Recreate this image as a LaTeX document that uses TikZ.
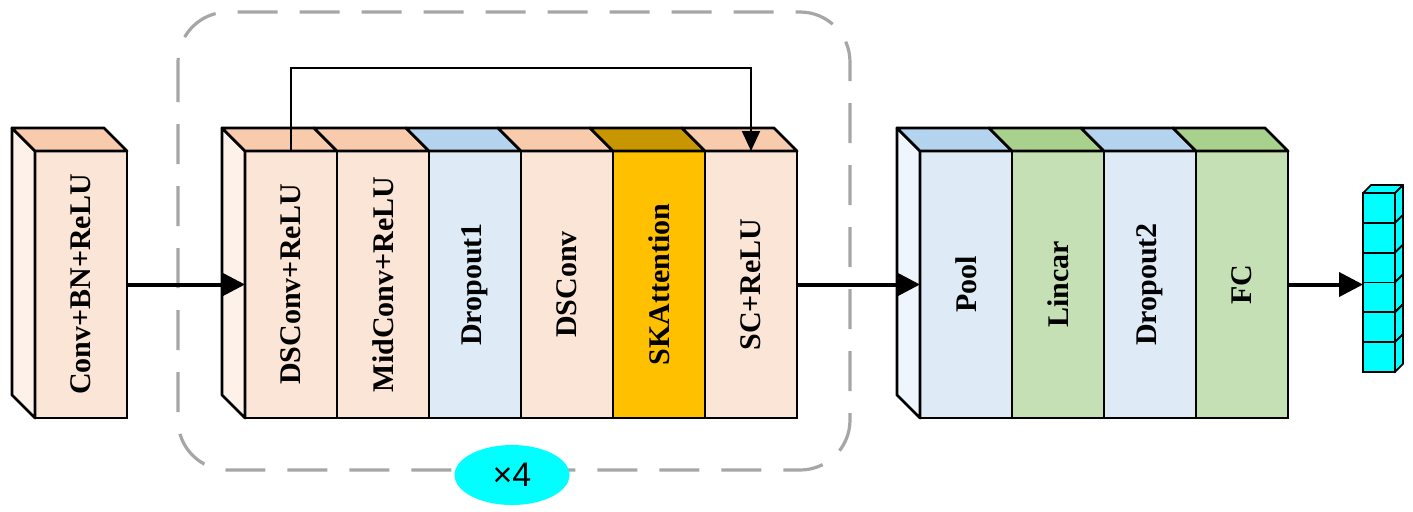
\documentclass[tikz,border=0pt]{standalone}
\usepackage{fontspec}
\setmainfont{Liberation Serif}
\setsansfont{Liberation Sans}
\usetikzlibrary{arrows.meta,shapes.geometric}

\definecolor{peachfront}{HTML}{FBE5D6}
\definecolor{peachtop}{HTML}{F8CBAD}
\definecolor{peachside}{HTML}{FDF1E9}
\definecolor{bluefront}{HTML}{DEEBF7}
\definecolor{bluetop}{HTML}{B4D3EE}
\definecolor{blueside}{HTML}{EEF5FC}
\definecolor{greenfront}{HTML}{C5E0B4}
\definecolor{greentop}{HTML}{A9D18E}
\definecolor{goldfront}{HTML}{FFC000}
\definecolor{goldtop}{HTML}{C89600}
\definecolor{loopgray}{HTML}{A6A6A6}
\definecolor{vecfill}{HTML}{00FFFF}

\tikzset{
  layer/.style={draw, line width=1.4pt, anchor=north west, minimum width=46pt,
    minimum height=133.5pt, inner sep=0pt, outer sep=0pt,
    font=\bfseries\fontsize{15}{18}\selectfont},
  face/.style={draw, line width=1.4pt, line join=round},
  flow/.style={line width=2pt, -{Triangle[length=12pt,width=12pt]}},
  skip/.style={line width=1pt, -{Triangle[length=10pt,width=9pt]}},
  cell/.style={draw, fill=vecfill, line width=0.9pt, anchor=north west,
    minimum width=16pt, minimum height=14.9pt, inner sep=0pt, outer sep=0pt},
  cellface/.style={draw, fill=vecfill, line width=0.9pt, line join=round},
}

% top and side faces of a layer slab (depth 23 units up-left)
\newcommand{\topface}[2]{\filldraw[face, fill=#2] (#1.north west) -- (#1.north east)
  -- ++(-23,-23) -- ++(-92,0) -- cycle;}
\newcommand{\sideface}[2]{\filldraw[face, fill=#2] (#1.north west) -- ++(-23,-23)
  -- ++(0,267) -- (#1.south west) -- cycle;}

\begin{document}
\begin{tikzpicture}[x=0.5pt, y=-0.5pt]
\useasboundingbox (0,0) rectangle (1413,511);

% repeated block
\draw[loopgray, line width=1.6pt, dash pattern=on 20pt off 11pt, rounded corners=25pt]
  (178,12) rectangle (850,470);

% stem
\node[layer, fill=peachfront] (stem) at (35,151) {\rotatebox{90}{Conv+BN+ReLU}};
\sideface{stem}{peachside}
\topface{stem}{peachtop}

% residual block
\node[layer, fill=peachfront] (dsrelu) at (245,151) {\rotatebox{90}{DSConv+ReLU}};
\node[layer, fill=peachfront] (midrelu) at (dsrelu.north east) {\rotatebox{90}{MidConv+ReLU}};
\node[layer, fill=bluefront] (drop1) at (midrelu.north east) {\rotatebox{90}{Dropout1}};
\node[layer, fill=peachfront] (dsconv) at (drop1.north east) {\rotatebox{90}{DSConv}};
\node[layer, fill=goldfront] (ska) at (dsconv.north east) {\rotatebox{90}{SKAttention}};
\node[layer, fill=peachfront] (screlu) at (ska.north east) {\rotatebox{90}{SC+ReLU}};
\sideface{dsrelu}{peachside}
\topface{dsrelu}{peachtop}
\topface{midrelu}{peachtop}
\topface{drop1}{bluetop}
\topface{dsconv}{peachtop}
\topface{ska}{goldtop}
\topface{screlu}{peachtop}

% head
\node[layer, fill=bluefront] (pool) at (920,151) {\rotatebox{90}{Pool}};
\node[layer, fill=greenfront] (lincar) at (pool.north east) {\rotatebox{90}{Lincar}};
\node[layer, fill=bluefront] (drop2) at (lincar.north east) {\rotatebox{90}{Dropout2}};
\node[layer, fill=greenfront] (fc) at (drop2.north east) {\rotatebox{90}{FC}};
\sideface{pool}{blueside}
\topface{pool}{bluetop}
\topface{lincar}{greentop}
\topface{drop2}{bluetop}
\topface{fc}{greentop}

% output vector
\foreach \i in {0,...,5}
  \node[cell] (c\i) at (1363,{193+29.8*\i}) {};
\filldraw[cellface] (c0.north west) -- ++(8,-8) -- ++(32,0) -- (c0.north east) -- cycle;
\foreach \i in {0,...,5}
  \filldraw[cellface] (c\i.north east) -- ++(8,-8) -- ++(0,29.8) -- (c\i.south east) -- cycle;

\node[ellipse, fill=vecfill, minimum width=57.5pt, minimum height=30pt, inner sep=0pt,
  font=\sffamily\fontsize{17}{17}\selectfont] (times) at (512,475) {×4};

\draw[skip] (dsrelu.north) -- ++(0,-83) -| (screlu.north);
\draw[flow] (stem.east) -- (dsrelu.west);
\draw[flow] (screlu.east) -- (pool.west);
\draw[flow] (fc.east) -- (fc.east -| c3.west);
\end{tikzpicture}
\end{document}
